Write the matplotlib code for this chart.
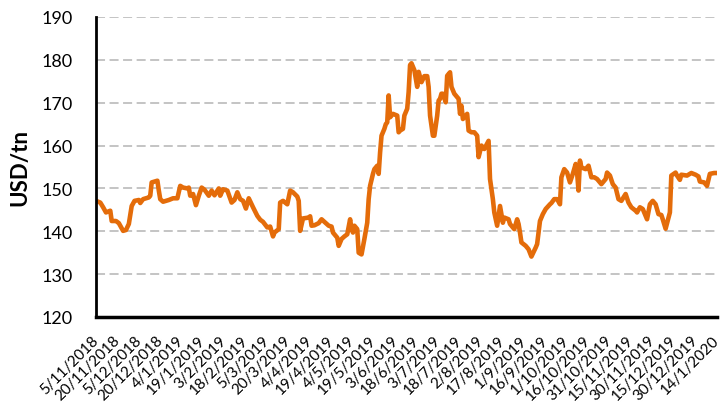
import matplotlib
matplotlib.use("Agg")
import matplotlib.pyplot as plt

# Day offsets from 5/11/2018 and price (USD/tn)
start_label = "5/11/2018"
days = [0, 3, 5, 7, 10, 11, 14, 16, 19, 21, 23, 25, 27, 30, 31, 33, 37, 38, 39, 43,
        44, 45, 47, 51, 54, 57, 59, 61, 64, 65, 66, 68, 70, 72, 74, 76, 79, 81, 83, 86,
        87, 89, 92, 95, 97, 99, 101, 103, 105, 107, 110, 113, 115, 117, 120, 122, 124, 125, 128, 129,
        131, 134, 136, 138, 141, 142, 143, 145, 149, 150, 151, 153, 156, 158, 160, 163, 165, 166, 169, 170,
        172, 174, 176, 178, 179, 180, 181, 183, 184, 186, 188, 190, 191, 192, 194, 195, 197, 198, 199, 200,
        202, 203, 204, 205, 206, 208, 211, 212, 213, 215, 216, 218, 219, 220, 221, 223, 225, 226, 228, 230,
        232, 233, 234, 236, 237, 239, 240, 241, 242, 243, 245, 246, 248, 249, 251, 253, 254, 255, 256, 257,
        260, 261, 263, 265, 267, 268, 270, 272, 275, 276, 278, 279, 281, 283, 285, 286, 289, 290, 292, 293,
        295, 296, 297, 298, 301, 303, 305, 308, 309, 311, 313, 315, 318, 319, 321, 323, 325, 326, 328, 330,
        332, 334, 336, 337, 338, 339, 340, 343, 345, 347, 349, 351, 354, 357, 358, 360, 362, 364, 366, 368,
        371, 373, 375, 378, 379, 381, 383, 386, 388, 390, 392, 394, 396, 397, 399, 401, 402, 403, 406, 407,
        409, 410, 414, 417, 420, 422, 423, 426, 428, 430, 433, 435]
prices = [147.1, 146.7, 145.6, 144.4, 144.8, 142.4, 142.4, 141.9, 140.1, 140.3, 141.7, 145.9, 147.1, 147.3, 146.6, 147.5, 147.9, 148.3, 151.4, 151.8,
          149.5, 147.5, 146.9, 147.3, 147.7, 147.7, 150.6, 150.2, 150.0, 150.2, 148.3, 148.7, 146.1, 148.3, 150.2, 149.7, 148.3, 149.5, 148.4, 150.0,
          148.3, 149.8, 149.5, 146.7, 147.3, 149.1, 147.5, 147.1, 145.3, 147.7, 145.6, 143.6, 142.7, 142.2, 140.9, 141.1, 138.8, 139.7, 140.5, 146.7,
          147.1, 146.3, 149.5, 149.1, 148.1, 147.1, 140.1, 143.0, 143.2, 143.5, 141.3, 141.4, 141.9, 142.8, 142.2, 141.3, 141.1, 139.7, 138.5, 136.6,
          138.2, 138.8, 139.3, 142.8, 140.5, 139.7, 141.3, 140.5, 135.0, 134.6, 138.2, 142.0, 147.5, 150.6, 153.4, 154.5, 155.3, 153.4, 158.4, 162.3,
          163.9, 165.0, 165.4, 171.7, 166.6, 167.4, 167.0, 163.1, 163.5, 163.9, 167.0, 168.6, 172.5, 178.8, 179.2, 177.6, 173.7, 177.2, 174.8, 176.2,
          176.2, 173.7, 167.0, 162.3, 162.3, 167.0, 170.5, 170.9, 172.1, 172.1, 170.1, 176.3, 177.1, 173.7, 172.1, 171.3, 170.9, 167.4, 169.3, 166.2,
          167.4, 163.5, 163.1, 163.1, 162.3, 157.3, 160.0, 159.2, 161.1, 152.2, 147.5, 144.4, 141.3, 145.9, 142.0, 143.2, 142.8, 141.7, 140.9, 140.5,
          142.8, 141.7, 139.7, 137.4, 136.6, 135.8, 134.1, 136.2, 137.0, 142.4, 144.0, 145.2, 146.3, 146.6, 147.5, 147.5, 146.3, 152.6, 154.5, 153.7,
          151.4, 153.4, 155.7, 153.7, 149.5, 156.5, 154.9, 154.5, 155.3, 152.6, 152.6, 152.2, 151.0, 152.2, 153.7, 153.0, 151.0, 150.2, 147.5, 147.1,
          148.7, 146.7, 145.6, 144.8, 144.4, 145.6, 145.2, 142.8, 146.3, 147.1, 146.3, 144.0, 143.8, 142.8, 140.6, 143.2, 144.4, 153.0, 153.7, 153.0,
          152.0, 153.2, 153.0, 153.6, 153.2, 152.8, 151.6, 151.4, 150.6, 153.4, 153.6, 153.6]

tick_days = list(range(0, 436, 15))
tick_labels = ["5/11/2018", "20/11/2018", "5/12/2018", "20/12/2018", "4/1/2019", "19/1/2019",
               "3/2/2019", "18/2/2019", "5/3/2019", "20/3/2019", "4/4/2019", "19/4/2019",
               "4/5/2019", "19/5/2019", "3/6/2019", "18/6/2019", "3/7/2019", "18/7/2019",
               "2/8/2019", "17/8/2019", "1/9/2019", "16/9/2019", "1/10/2019", "16/10/2019",
               "31/10/2019", "15/11/2019", "30/11/2019", "15/12/2019", "30/12/2019", "14/1/2020"]
y_ticks = [120, 130, 140, 150, 160, 170, 180, 190]
y_label = "USD/tn"

plt.rcParams['font.family'] = ['Lato', 'DejaVu Sans']

fig = plt.figure(figsize=(7.21, 4.10), dpi=100)
ax = fig.add_axes([96/721, 92/410, (717-96)/721, 300/410])

ax.plot(days, prices, color='#E46C0A', lw=3.3, solid_joinstyle='round', solid_capstyle='round', zorder=3)

ax.set_xlim(tick_days[0], tick_days[-1])
ax.set_ylim(y_ticks[0], y_ticks[-1])
ax.set_yticks(y_ticks)
ax.set_yticklabels([str(v) for v in y_ticks], fontsize=13)
ax.set_xticks(tick_days)
ax.set_xticklabels(tick_labels, rotation=45, ha='right', va='center', rotation_mode='anchor', fontsize=11)
ax.tick_params(axis='both', length=0)
ax.tick_params(axis='y', pad=17)
ax.tick_params(axis='x', pad=15)

ax.yaxis.grid(True, color='#BFBFBF', linestyle=(0, (5, 2.5)), linewidth=1.3)
ax.set_axisbelow(True)
for s in ['top', 'right']:
    ax.spines[s].set_visible(False)
ax.spines['left'].set_linewidth(2.0)
ax.spines['bottom'].set_linewidth(2.5)
ax.spines['left'].set_zorder(4)
ax.spines['bottom'].set_zorder(4)

ax.set_ylabel(y_label, fontsize=16, fontweight='bold', labelpad=8)

fig.savefig("out.png", dpi=100)
